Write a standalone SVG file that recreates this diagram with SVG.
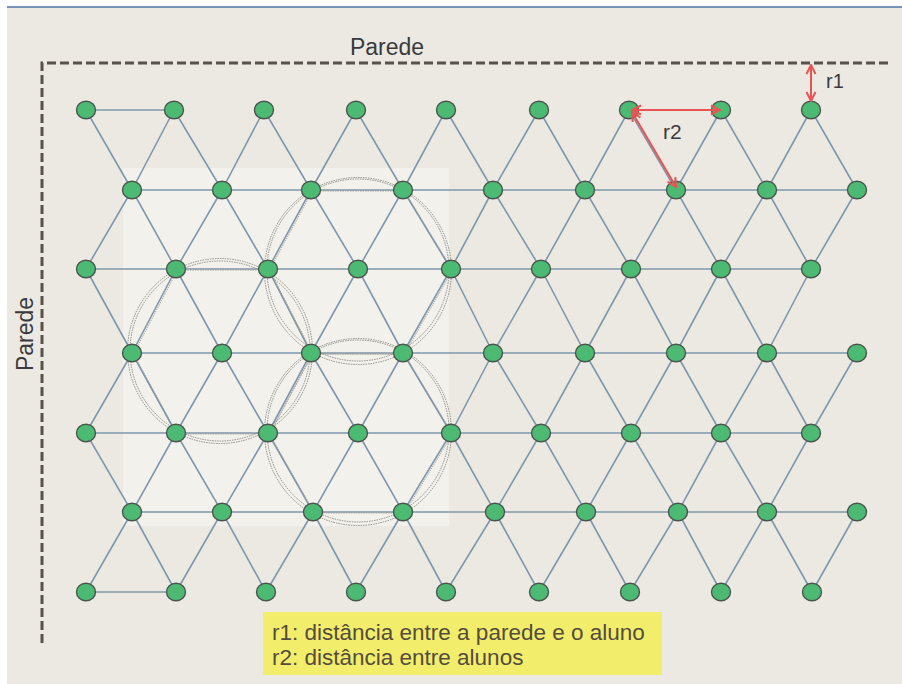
<svg xmlns="http://www.w3.org/2000/svg" width="902" height="684" viewBox="0 0 902 684">
<style>
.bg{fill:#ECE9E2}
.wall{fill:none;stroke:#57534b;stroke-width:3;stroke-dasharray:9 4}
.lat{fill:none;stroke:#7f97ad;stroke-width:1.6;stroke-linejoin:round}
.hex{fill:none;stroke:#9a978f;stroke-width:1;stroke-dasharray:1.5 1;opacity:0.8}
.ring{fill:none;stroke:#8e8c86;stroke-width:1;stroke-dasharray:1.5 1}
.n ellipse{fill:#4DBA74;stroke:#4a544d;stroke-width:1.4}
.red{fill:none;stroke:#EB5352;stroke-width:2}
.lbl{font-family:"Liberation Sans",Arial,sans-serif;fill:#3a3a3e}
.leg{font-family:"Liberation Sans",Arial,sans-serif;fill:#554c3e;font-size:22.5px}
</style>
<defs>
<marker id="ah" viewBox="0 0 12 12" refX="11" refY="6" markerWidth="12" markerHeight="12" markerUnits="userSpaceOnUse" orient="auto-start-reverse">
<path d="M2 1.5L11 6L2 10.5" fill="none" stroke="#EB5352" stroke-width="2"/>
</marker>
</defs>
<rect x="0" y="0" width="902" height="684" fill="#ffffff"/>
<rect class="bg" x="7" y="6" width="895" height="678"/>
<line x1="7" y1="7" x2="902" y2="7" stroke="#5276a8" stroke-width="1.5"/>
<rect x="123" y="168" width="326" height="358" fill="#F3F1EB"/>
<path class="wall" d="M42 643V63H888"/>
<text class="lbl" x="387" y="55" font-size="23" text-anchor="middle">Parede</text>
<text class="lbl" x="0" y="0" font-size="23" text-anchor="middle" transform="translate(33 334) rotate(-90)">Parede</text>
<g id="connectors">
<path class="lat" d="M86 110L132 190L174 110L222 190L264 110L311 190L356 110L403 190L446 110L493 190L539 110L585 190L629 110L676 190L721 110L767 190L811 110L857 190"/>
<path class="lat" d="M86 269L132 190L176 269L222 190L268 269L311 190L358 269L403 190L451 269L493 190L541 269L585 190L631 269L676 190L721 269L767 190L811 269L857 190"/>
<path class="lat" d="M86 269L132 353L176 269L222 353L268 269L311 353L358 269L403 353L451 269L493 353L541 269L585 353L631 269L676 353L721 269L767 353L811 269"/>
<path class="lat" d="M86 433L132 353L176 433L222 353L268 433L311 353L358 433L403 353L451 433L493 353L541 433L585 353L631 433L676 353L721 433L767 353L811 433L857 353"/>
<path class="lat" d="M86 433L132 512L176 433L222 512L268 433L313 512L358 433L403 512L451 433L495 512L541 433L586 512L631 433L678 512L721 433L767 512L811 433"/>
<path class="lat" d="M86 592L132 512L176 592L222 512L266 592L313 512L356 592L403 512L446 592L495 512L539 592L586 512L630 592L678 512L721 592L767 512L812 592L857 512"/>
<path class="lat" d="M86 110H174M132 190H857M86 269H811M132 353H857M86 433H811M132 512H857M86 592H176"/>
<path class="hex" transform="translate(1.5 1)" d="M311 190L403 190L451 269L403 353L311 353L268 269Z"/>
<path class="hex" transform="translate(1.5 1)" d="M176 269L268 269L311 353L268 433L176 433L132 353Z"/>
<path class="hex" transform="translate(1.5 1)" d="M311 353L403 353L451 433L403 512L313 512L268 433Z"/>
<circle class="ring" cx="358" cy="270" r="91"/>
<circle class="ring" cx="358" cy="271" r="93.5"/>
<circle class="ring" cx="220" cy="351" r="90"/>
<circle class="ring" cx="220" cy="351" r="92.5"/>
<circle class="ring" cx="358" cy="431" r="91"/>
<circle class="ring" cx="358" cy="432" r="93.5"/>
</g>
<g id="n1-1" class="n"><ellipse cx="86" cy="110" rx="9.5" ry="8.7"/></g>
<g id="n1-2" class="n"><ellipse cx="174" cy="110" rx="9.5" ry="8.7"/></g>
<g id="n1-3" class="n"><ellipse cx="264" cy="110" rx="9.5" ry="8.7"/></g>
<g id="n1-4" class="n"><ellipse cx="356" cy="110" rx="9.5" ry="8.7"/></g>
<g id="n1-5" class="n"><ellipse cx="446" cy="110" rx="9.5" ry="8.7"/></g>
<g id="n1-6" class="n"><ellipse cx="539" cy="110" rx="9.5" ry="8.7"/></g>
<g id="n1-7" class="n"><ellipse cx="629" cy="110" rx="9.5" ry="8.7"/></g>
<g id="n1-8" class="n"><ellipse cx="721" cy="110" rx="9.5" ry="8.7"/></g>
<g id="n1-9" class="n"><ellipse cx="811" cy="110" rx="9.5" ry="8.7"/></g>
<g id="n2-1" class="n"><ellipse cx="132" cy="190" rx="9.5" ry="8.7"/></g>
<g id="n2-2" class="n"><ellipse cx="222" cy="190" rx="9.5" ry="8.7"/></g>
<g id="n2-3" class="n"><ellipse cx="311" cy="190" rx="9.5" ry="8.7"/></g>
<g id="n2-4" class="n"><ellipse cx="403" cy="190" rx="9.5" ry="8.7"/></g>
<g id="n2-5" class="n"><ellipse cx="493" cy="190" rx="9.5" ry="8.7"/></g>
<g id="n2-6" class="n"><ellipse cx="585" cy="190" rx="9.5" ry="8.7"/></g>
<g id="n2-7" class="n"><ellipse cx="676" cy="190" rx="9.5" ry="8.7"/></g>
<g id="n2-8" class="n"><ellipse cx="767" cy="190" rx="9.5" ry="8.7"/></g>
<g id="n2-9" class="n"><ellipse cx="857" cy="190" rx="9.5" ry="8.7"/></g>
<g id="n3-1" class="n"><ellipse cx="86" cy="269" rx="9.5" ry="8.7"/></g>
<g id="n3-2" class="n"><ellipse cx="176" cy="269" rx="9.5" ry="8.7"/></g>
<g id="n3-3" class="n"><ellipse cx="268" cy="269" rx="9.5" ry="8.7"/></g>
<g id="n3-4" class="n"><ellipse cx="358" cy="269" rx="9.5" ry="8.7"/></g>
<g id="n3-5" class="n"><ellipse cx="451" cy="269" rx="9.5" ry="8.7"/></g>
<g id="n3-6" class="n"><ellipse cx="541" cy="269" rx="9.5" ry="8.7"/></g>
<g id="n3-7" class="n"><ellipse cx="631" cy="269" rx="9.5" ry="8.7"/></g>
<g id="n3-8" class="n"><ellipse cx="721" cy="269" rx="9.5" ry="8.7"/></g>
<g id="n3-9" class="n"><ellipse cx="811" cy="269" rx="9.5" ry="8.7"/></g>
<g id="n4-1" class="n"><ellipse cx="132" cy="353" rx="9.5" ry="8.7"/></g>
<g id="n4-2" class="n"><ellipse cx="222" cy="353" rx="9.5" ry="8.7"/></g>
<g id="n4-3" class="n"><ellipse cx="311" cy="353" rx="9.5" ry="8.7"/></g>
<g id="n4-4" class="n"><ellipse cx="403" cy="353" rx="9.5" ry="8.7"/></g>
<g id="n4-5" class="n"><ellipse cx="493" cy="353" rx="9.5" ry="8.7"/></g>
<g id="n4-6" class="n"><ellipse cx="585" cy="353" rx="9.5" ry="8.7"/></g>
<g id="n4-7" class="n"><ellipse cx="676" cy="353" rx="9.5" ry="8.7"/></g>
<g id="n4-8" class="n"><ellipse cx="767" cy="353" rx="9.5" ry="8.7"/></g>
<g id="n4-9" class="n"><ellipse cx="857" cy="353" rx="9.5" ry="8.7"/></g>
<g id="n5-1" class="n"><ellipse cx="86" cy="433" rx="9.5" ry="8.7"/></g>
<g id="n5-2" class="n"><ellipse cx="176" cy="433" rx="9.5" ry="8.7"/></g>
<g id="n5-3" class="n"><ellipse cx="268" cy="433" rx="9.5" ry="8.7"/></g>
<g id="n5-4" class="n"><ellipse cx="358" cy="433" rx="9.5" ry="8.7"/></g>
<g id="n5-5" class="n"><ellipse cx="451" cy="433" rx="9.5" ry="8.7"/></g>
<g id="n5-6" class="n"><ellipse cx="541" cy="433" rx="9.5" ry="8.7"/></g>
<g id="n5-7" class="n"><ellipse cx="631" cy="433" rx="9.5" ry="8.7"/></g>
<g id="n5-8" class="n"><ellipse cx="721" cy="433" rx="9.5" ry="8.7"/></g>
<g id="n5-9" class="n"><ellipse cx="811" cy="433" rx="9.5" ry="8.7"/></g>
<g id="n6-1" class="n"><ellipse cx="132" cy="512" rx="9.5" ry="8.7"/></g>
<g id="n6-2" class="n"><ellipse cx="222" cy="512" rx="9.5" ry="8.7"/></g>
<g id="n6-3" class="n"><ellipse cx="313" cy="512" rx="9.5" ry="8.7"/></g>
<g id="n6-4" class="n"><ellipse cx="403" cy="512" rx="9.5" ry="8.7"/></g>
<g id="n6-5" class="n"><ellipse cx="495" cy="512" rx="9.5" ry="8.7"/></g>
<g id="n6-6" class="n"><ellipse cx="586" cy="512" rx="9.5" ry="8.7"/></g>
<g id="n6-7" class="n"><ellipse cx="678" cy="512" rx="9.5" ry="8.7"/></g>
<g id="n6-8" class="n"><ellipse cx="767" cy="512" rx="9.5" ry="8.7"/></g>
<g id="n6-9" class="n"><ellipse cx="857" cy="512" rx="9.5" ry="8.7"/></g>
<g id="n7-1" class="n"><ellipse cx="86" cy="592" rx="9.5" ry="8.7"/></g>
<g id="n7-2" class="n"><ellipse cx="176" cy="592" rx="9.5" ry="8.7"/></g>
<g id="n7-3" class="n"><ellipse cx="266" cy="592" rx="9.5" ry="8.7"/></g>
<g id="n7-4" class="n"><ellipse cx="356" cy="592" rx="9.5" ry="8.7"/></g>
<g id="n7-5" class="n"><ellipse cx="446" cy="592" rx="9.5" ry="8.7"/></g>
<g id="n7-6" class="n"><ellipse cx="539" cy="592" rx="9.5" ry="8.7"/></g>
<g id="n7-7" class="n"><ellipse cx="630" cy="592" rx="9.5" ry="8.7"/></g>
<g id="n7-8" class="n"><ellipse cx="721" cy="592" rx="9.5" ry="8.7"/></g>
<g id="n7-9" class="n"><ellipse cx="812" cy="592" rx="9.5" ry="8.7"/></g>
<g id="dimensions">
<line class="red" x1="811" y1="101" x2="811" y2="65" marker-start="url(#ah)" marker-end="url(#ah)"/>
<line class="red" x1="632" y1="110" x2="720" y2="110" marker-start="url(#ah)" marker-end="url(#ah)"/>
<line class="red" x1="632" y1="112" x2="676" y2="187" marker-start="url(#ah)" marker-end="url(#ah)"/>
<text class="lbl" x="826" y="88" font-size="20">r1</text>
<text class="lbl" x="663" y="139" font-size="21">r2</text>
</g>
<g id="legend">
<rect x="263" y="612" width="399" height="63" fill="#F2EE6C"/>
<text class="leg" x="272" y="640">r1: distância entre a parede e o aluno</text>
<text class="leg" x="272" y="665">r2: distância entre alunos</text>
</g>
</svg>
